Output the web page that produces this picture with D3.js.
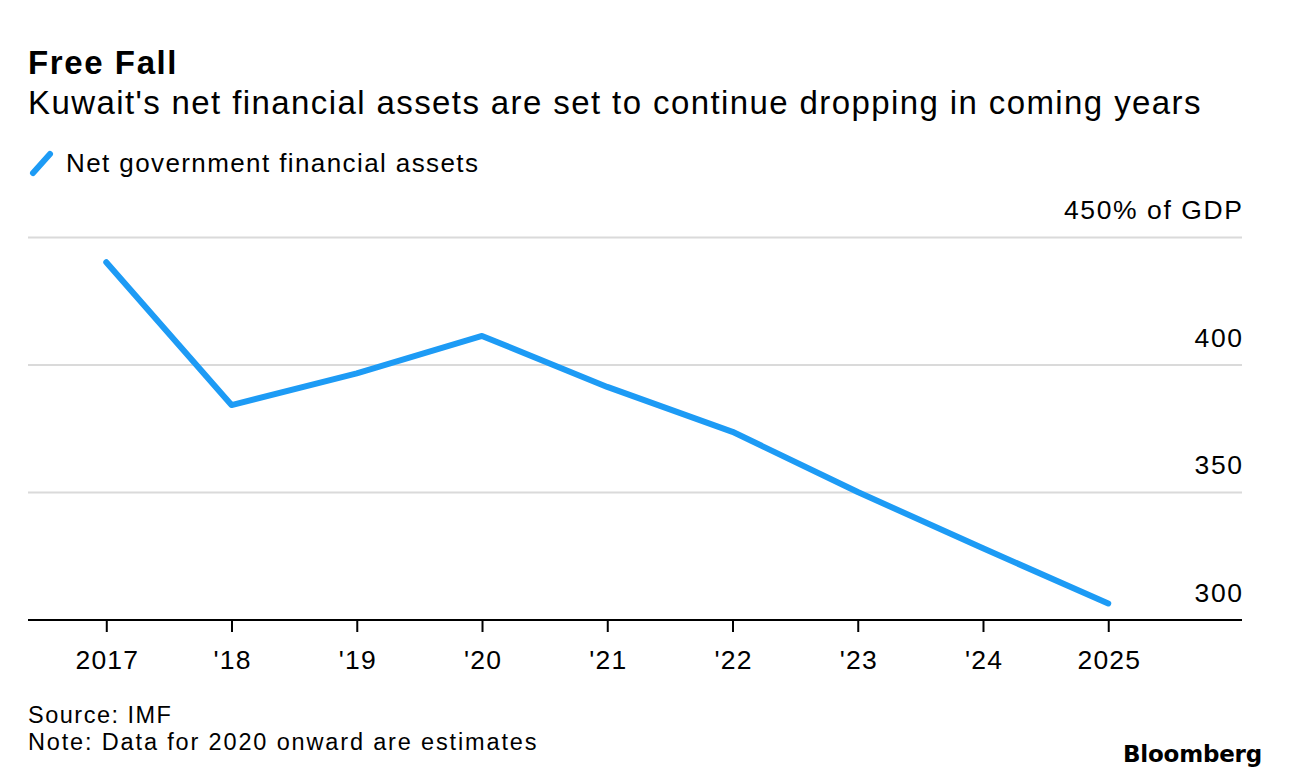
<!DOCTYPE html>
<html>
<head>
<meta charset="utf-8">
<script src="https://cdn.jsdelivr.net/npm/d3@7"></script>
<style>
  html, body { margin: 0; padding: 0; background: #fff; }
  svg { display: block; font-family: "Liberation Sans", Arial, Helvetica, sans-serif; }
</style>
</head>
<body>
<svg id="chart" width="1289" height="782"></svg>
<script>
const years = [2017, 2018, 2019, 2020, 2021, 2022, 2023, 2024, 2025];
const tickLabels = ["2017", "'18", "'19", "'20", "'21", "'22", "'23", "'24", "2025"];
const assets = [440.3, 384.3, 396.7, 411.4, 391.4, 373.8, 350.2, 328.1, 306.5];
const yTicks = [300, 350, 400, 450];
const yTickLabels = ["300", "350", "400", "450% of GDP"];

(function () {
const plotL = 28, plotR = 1242, plotT = 237.5, plotB = 620;
const svg = d3.select("#chart");

const x = d3.scaleLinear().domain([2016.375, 2026.068]).range([plotL, plotR]);
const y = d3.scaleLinear().domain([300, 450]).range([plotB, plotT]);

// Title
svg.append("text").attr("x", 28).attr("y", 73.5)
  .attr("font-size", 33).attr("font-weight", "bold").attr("letter-spacing", 1.6).attr("fill", "#000")
  .text("Free Fall");
svg.append("text").attr("x", 28).attr("y", 114)
  .attr("font-size", 33).attr("letter-spacing", 1.4).attr("fill", "#000")
  .text("Kuwait's net financial assets are set to continue dropping in coming years");

// Legend
svg.append("line").attr("x1", 33).attr("y1", 173).attr("x2", 50).attr("y2", 154)
  .attr("stroke", "#1d9bf5").attr("stroke-width", 6).attr("stroke-linecap", "round");
svg.append("text").attr("x", 66).attr("y", 172)
  .attr("font-size", 26).attr("letter-spacing", 1.4).attr("fill", "#000")
  .text("Net government financial assets");

// Grid
const grid = svg.append("g");
yTicks.filter(d => d !== 300).forEach(d => {
  grid.append("line").attr("x1", plotL).attr("x2", plotR)
    .attr("y1", y(d)).attr("y2", y(d))
    .attr("stroke", "#dadada").attr("stroke-width", 2);
});
yTicks.forEach((d, i) => {
  svg.append("text").attr("x", plotR + 1.6).attr("y", y(d) - 18.5)
    .attr("text-anchor", "end").attr("font-size", 26.5).attr("letter-spacing", 1.6).attr("fill", "#000")
    .text(yTickLabels[i]);
});

// X axis
const xAxis = d3.axisBottom(x).tickValues(years).tickSize(12).tickFormat((d, i) => tickLabels[i]);
const gx = svg.append("g").attr("transform", `translate(0,${plotB})`).call(xAxis);
gx.select(".domain").attr("d", `M${plotL},0H${plotR}`).attr("stroke", "#000").attr("stroke-width", 2);
gx.selectAll(".tick line").attr("stroke", "#000").attr("stroke-width", 2);
gx.selectAll(".tick text").attr("font-size", 26.5).attr("fill", "#000").attr("letter-spacing", 1.2)
  .attr("font-family", "'Liberation Sans', Arial, sans-serif").attr("dy", 0).attr("y", 49).attr("x", 0.6);

// Line
const line = d3.line().x((d, i) => x(years[i])).y(d => y(d));
svg.append("path").datum(assets).attr("d", line)
  .attr("fill", "none").attr("stroke", "#1d9bf5").attr("stroke-width", 6)
  .attr("stroke-linejoin", "round").attr("stroke-linecap", "round");

// Footer
svg.append("text").attr("x", 28).attr("y", 723).attr("font-size", 23.5).attr("letter-spacing", 1.5).attr("fill", "#000")
  .text("Source: IMF");
svg.append("text").attr("x", 28).attr("y", 750).attr("font-size", 23.5).attr("letter-spacing", 1.85).attr("fill", "#000")
  .text("Note: Data for 2020 onward are estimates");
svg.append("text").attr("x", 1262).attr("y", 762).attr("text-anchor", "end")
  .attr("font-family", "'DejaVu Sans', sans-serif")
  .attr("font-size", 23).attr("font-weight", "bold").attr("letter-spacing", -0.2).attr("fill", "#000")
  .text("Bloomberg");
})();
</script>
</body>
</html>
